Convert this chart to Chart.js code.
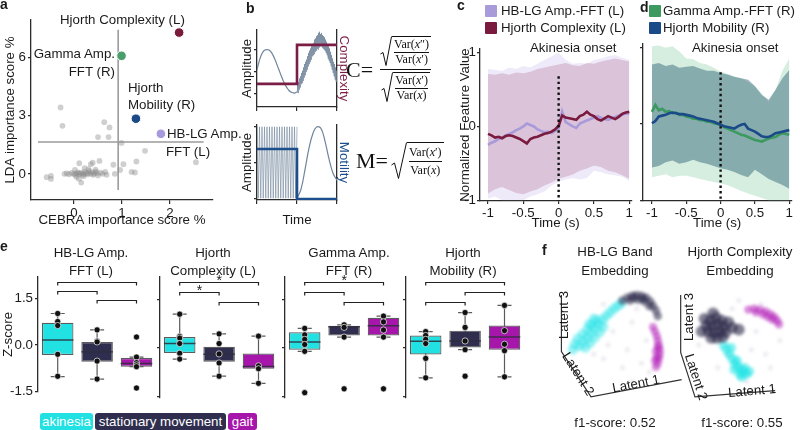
<!DOCTYPE html>
<html>
<head>
<meta charset="utf-8">
<title>Feature importance, Hjorth schematics, onset traces and embeddings</title>
<script src="https://cdn.jsdelivr.net/npm/chart.js@4.4.1/dist/chart.umd.min.js"></script>
<style>
  body { margin: 0; background: #fff; }
  #fig { position: relative; width: 800px; height: 430px; overflow: hidden;
         font-family: "Liberation Sans", Arial, sans-serif; color: #1a1a1a; }
  #fig canvas { position: absolute; }
  .t { position: absolute; z-index: 2; white-space: nowrap; font-size: 13.3px; line-height: 16px; }
  .ctr { text-align: center; width: 160px; }
  .rot { position: absolute; z-index: 2; white-space: nowrap; font-size: 13.3px; line-height: 16px; }
  .lbl { position: absolute; z-index: 2; font-weight: bold; font-size: 14px; line-height: 16px; }
  .sq { position: absolute; z-index: 2; width: 12px; height: 12px; border-radius: 1px; }
  .tag { position: absolute; z-index: 2; top: 413px; height: 17px; line-height: 17px; font-size: 13.3px;
         color: #fff; text-align: center; border-radius: 3px; }
  .fm { position: absolute; z-index: 2; display: flex; align-items: center;
        font-family: "Liberation Serif", "DejaVu Serif", serif; color: #111; }
  .eq { font-size: 22px; margin-right: 7px; }
  .fr { display: flex; flex-direction: column; align-items: center; }
  .fr > .rt:first-child { border-bottom: 1px solid #111; padding-bottom: 2px; margin-bottom: 2px; }
  .rt { display: flex; align-items: flex-start; }
  .rt svg { flex: none; }
  .sf { display: flex; flex-direction: column; align-items: center; border-top: 1px solid #111;
        font-size: 12px; line-height: 13px; padding: 1px 2px 0; }
  .sf > span:first-child { border-bottom: 1px solid #111; padding-bottom: 1px; }
  .sf.big { line-height: 16px; }
</style>
</head>
<body>
<div id="fig">
  <!-- panel labels -->
  <div class="lbl" style="left:0px;top:-4px">a</div>
  <div class="lbl" style="left:246px;top:0px">b</div>
  <div class="lbl" style="left:457px;top:-3px">c</div>
  <div class="lbl" style="left:640px;top:-1px">d</div>
  <div class="lbl" style="left:0px;top:238px">e</div>
  <div class="lbl" style="left:542px;top:242px">f</div>

  <!-- a: point annotations -->
  <div class="t" style="left:60px;top:12px">Hjorth Complexity (L)</div>
  <div class="t" style="right:685px;top:46px">Gamma Amp.</div>
  <div class="t" style="right:685px;top:64px">FFT (R)</div>
  <div class="t" style="left:128px;top:80px">Hjorth</div>
  <div class="t" style="left:128px;top:97px">Mobility (R)</div>
  <div class="t" style="left:167px;top:126px">HB-LG Amp.</div>
  <div class="t" style="left:166px;top:144px">FFT (L)</div>

  <!-- b: formulas -->
  <div class="fm" style="left:346px;top:36px">
    <span class="eq">C=</span>
    <span class="fr">
      <span class="rt">
        <svg width="12" height="31" viewBox="0 0 12 31"><path d="M0.5 18 L3 16.5 L6 29.5 L11.5 0.5" fill="none" stroke="#111" stroke-width="1"/></svg>
        <span class="sf"><span>Var(<i>x</i>″)</span><span>Var(<i>x</i>′)</span></span>
      </span>
      <span class="rt">
        <svg width="12" height="31" viewBox="0 0 12 31"><path d="M0.5 18 L3 16.5 L6 29.5 L11.5 0.5" fill="none" stroke="#111" stroke-width="1"/></svg>
        <span class="sf"><span>Var(<i>x</i>′)</span><span>Var(<i>x</i>)</span></span>
      </span>
    </span>
  </div>
  <div class="fm" style="left:356px;top:142px">
    <span class="eq" style="margin-right:3px">M=</span>
    <span class="rt">
      <svg width="16" height="38" viewBox="0 0 16 38"><path d="M0.5 23 L3.5 21 L7.5 36.5 L15.5 0.5" fill="none" stroke="#111" stroke-width="1"/></svg>
      <span class="sf big"><span>Var(<i>x</i>′)</span><span>Var(<i>x</i>)</span></span>
    </span>
  </div>

  <!-- c, d: legends and onset labels -->
  <div class="sq" style="left:485px;top:5px;background:#a99bd9"></div>
  <div class="t" style="left:501px;top:3px">HB-LG Amp.-FFT (L)</div>
  <div class="sq" style="left:485px;top:22px;background:#7a1a3e"></div>
  <div class="t" style="left:501px;top:20px">Hjorth Complexity (L)</div>
  <div class="sq" style="left:649px;top:5px;background:#3c9a60"></div>
  <div class="t" style="left:663px;top:3px">Gamma Amp.-FFT (R)</div>
  <div class="sq" style="left:649px;top:22px;background:#1a4a88"></div>
  <div class="t" style="left:663px;top:20px">Hjorth Mobility (R)</div>
  <div class="t" style="left:530px;top:40px">Akinesia onset</div>
  <div class="t" style="left:692px;top:40px">Akinesia onset</div>

  <!-- e: subplot titles and state legend -->
  <div class="t ctr" style="left:11px;top:244px;line-height:18px">HB-LG Amp.<br>FFT (L)</div>
  <div class="t ctr" style="left:133px;top:244px;line-height:18px">Hjorth<br>Complexity (L)</div>
  <div class="t ctr" style="left:269px;top:244px;line-height:18px">Gamma Amp.<br>FFT (R)</div>
  <div class="t ctr" style="left:383px;top:244px;line-height:18px">Hjorth<br>Mobility (R)</div>
  <div class="tag" style="left:40px;width:53px;background:#22e1e2">akinesia</div>
  <div class="tag" style="left:95px;width:131px;background:#302e4e">stationary movement</div>
  <div class="tag" style="left:228px;width:29px;background:#a616aa">gait</div>

  <!-- f: titles, latent axis names, scores -->
  <div class="t ctr" style="left:535px;top:242px;line-height:19px">HB-LG Band<br>Embedding</div>
  <div class="t ctr" style="left:660px;top:242px;line-height:19px">Hjorth Complexity<br>Embedding</div>
  <div class="rot" style="left:564px;top:315px;transform:translate(-50%,-50%) rotate(-90deg)">Latent 3</div>
  <div class="rot" style="left:578px;top:374px;transform:translate(-50%,-50%) rotate(58deg)">Latent 2</div>
  <div class="rot" style="left:636px;top:384px;transform:translate(-50%,-50%) rotate(-11deg)">Latent 1</div>
  <div class="rot" style="left:689px;top:317px;transform:translate(-50%,-50%) rotate(-90deg)">Latent 3</div>
  <div class="rot" style="left:696px;top:377px;transform:translate(-50%,-50%) rotate(72deg)">Latent 2</div>
  <div class="rot" style="left:752px;top:391px;transform:translate(-50%,-50%) rotate(-5deg)">Latent 1</div>
  <div class="t ctr" style="left:535px;top:415px">f1-score: 0.52</div>
  <div class="t ctr" style="left:662px;top:415px">f1-score: 0.55</div>
</div>

<script>
// ---------------- data ----------------

// a: CEBRA vs LDA importance (%)
const grayX = [-0.28, -0.24, 0.63, 0.74, 0.50, 0.72, 0.99, 1.48, 2.54, 1.30, 1.03, 0.82, 0.53, 0.11, 1.27,
  0.96, 0.39, 0.68, -0.57, -0.48, -0.48, 0.15, 0.35, 0.85, 1.20,
  -0.15, -0.10, -0.05, 0.00, 0.02, 0.05, 0.08, 0.10, 0.12, 0.15, 0.18, 0.20, 0.22, 0.25, 0.28, 0.30, 0.32,
  0.35, 0.38, 0.40, 0.42, 0.45, 0.48, 0.50, 0.55, 0.60, 0.65, -0.20, 0.05, 0.10, 0.20, 0.30, 0.22, 0.45, 0.02];
const grayY = [3.43, 2.48, 2.67, 2.40, 1.90, 1.90, 1.60, 1.19, 0.60, 0.64, 0.50, 0.47, 0.67, 0.55, 0.07,
  0.20, 0.58, -0.05, -0.17, -0.26, -0.10, -0.45, 0.50, 0.00, 0.10,
  0.02, -0.02, 0.05, 0.00, -0.05, 0.03, 0.08, -0.02, 0.02, 0.05, -0.04, 0.00, 0.10, 0.03, -0.03, 0.05, 0.15,
  0.00, 0.08, -0.05, 0.02, 0.12, 0.04, -0.08, 0.06, 0.00, 0.10, 0.00, -0.15, -0.25, -0.12, 0.25, 0.30, 0.22, 0.20];
const featNames = ['Hjorth Complexity (L)', 'Gamma Amp. FFT (R)', 'Hjorth Mobility (R)', 'HB-LG Amp. FFT (L)'];
const featX = [2.19, 0.99, 1.29, 1.81];
const featY = [7.30, 6.10, 2.85, 2.07];
const cutX = 0.92, cutY = 1.65;
const cutSpanX = [-0.75, 2.70];
const cutSpanY = [-0.83, 7.45];
const aTicksX = [0, 1, 2];
const aTicksY = [0, 3, 6];

// b: schematic signals (arbitrary units)
const tSine = [0, 0.05, 0.1, 0.15, 0.2, 0.25, 0.3, 0.35, 0.4, 0.45, 0.5, 0.55, 0.6, 0.65, 0.7, 0.75, 0.8, 0.85, 0.9, 0.95, 1];
const sineAmp = [0.1, 0.45, 0.72, 0.9, 0.98, 1.0, 0.98, 0.9, 0.75, 0.55, 0.32, 0.08, -0.15, -0.38, -0.57, -0.72, -0.84, -0.91, -0.94, -0.95, -0.9];
const tNoisy = [1, 1.0125, 1.025, 1.0375, 1.05, 1.0625, 1.075, 1.0875, 1.1, 1.1125, 1.125, 1.1375, 1.15, 1.1625,
  1.175, 1.1875, 1.2, 1.2125, 1.225, 1.2375, 1.25, 1.2625, 1.275, 1.2875, 1.3, 1.3125, 1.325, 1.3375, 1.35, 1.3625,
  1.375, 1.3875, 1.4, 1.4125, 1.425, 1.4375, 1.45, 1.4625, 1.475, 1.4875, 1.5, 1.5125, 1.525, 1.5375, 1.55, 1.5625,
  1.575, 1.5875, 1.6, 1.6125, 1.625, 1.6375, 1.65, 1.6625, 1.675, 1.6875, 1.7, 1.7125, 1.725, 1.7375, 1.75, 1.7625,
  1.775, 1.7875, 1.8, 1.8125, 1.825, 1.8375, 1.85, 1.8625, 1.875, 1.8875, 1.9, 1.9125, 1.925, 1.9375, 1.95, 1.9625,
  1.975, 1.9875, 2];
const noisyAmp = [-0.9, -0.55, -0.95, -0.45, -0.8, -0.3, -0.7, -0.2, -0.55, -0.05, -0.5, 0.05, -0.4, 0.2, -0.25,
  0.35, -0.15, 0.45, 0.0, 0.55, 0.1, 0.7, 0.25, 0.85, 0.35, 0.95, 0.45, 1.05, 0.55, 1.15, 0.7, 1.25, 0.75, 1.3, 0.8,
  1.45, 0.9, 1.5, 0.95, 1.6, 1.05, 1.65, 1.0, 1.75, 1.1, 1.8, 1.15, 1.7, 1.2, 1.75, 1.1, 1.65, 1.05, 1.6, 1.0, 1.55,
  0.95, 1.45, 0.85, 1.35, 0.75, 1.25, 0.6, 1.15, 0.5, 1.05, 0.4, 0.9, 0.25, 0.75, 0.1, 0.6, -0.05, 0.45, -0.2, 0.35,
  -0.35, 0.2, -0.45, 0.05, -0.45];
const stepT = [0, 1, 1, 2];
const complexityStep = [-0.54, -0.54, 1.21, 1.21];
const tFast = [0, 0.03125, 0.0625, 0.09375, 0.125, 0.15625, 0.1875, 0.21875, 0.25, 0.28125, 0.3125, 0.34375, 0.375,
  0.40625, 0.4375, 0.46875, 0.5, 0.53125, 0.5625, 0.59375, 0.625, 0.65625, 0.6875, 0.71875, 0.75, 0.78125, 0.8125,
  0.84375, 0.875, 0.90625, 0.9375, 0.96875, 1];
const fastAmp = [1, -1, 1, -1, 1, -1, 1, -1, 1, -1, 1, -1, 1, -1, 1, -1, 1, -1, 1, -1, 1, -1, 1, -1, 1, -1, 1, -1,
  1, -1, 1, -1, 1];
const tBump = [1, 1.1, 1.2, 1.3, 1.4, 1.5, 1.6, 1.7, 1.8, 1.9, 2];
const bumpAmp = [-1.0, -0.75, -0.2, 0.4, 0.82, 1.0, 0.95, 0.6, 0.1, -0.3, -0.5];
const motilityStep = [0.38, 0.38, -1.02, -1.02];

// c, d: feature traces around akinesia onset (s)
const tMean = [-1, -0.95, -0.9, -0.85, -0.8, -0.75, -0.7, -0.65, -0.6, -0.55, -0.5, -0.45, -0.4, -0.35, -0.3, -0.25,
  -0.2, -0.15, -0.1, -0.05, 0, 0.05, 0.1, 0.15, 0.2, 0.25, 0.3, 0.35, 0.4, 0.45, 0.5, 0.55, 0.6, 0.65, 0.7, 0.75,
  0.8, 0.85, 0.9, 0.95, 1];
const hblgMean = [-0.25, -0.22, -0.2, -0.17, -0.15, -0.12, -0.1, -0.08, -0.05, -0.03, 0.0, 0.04, 0.02, 0.0, -0.04,
  -0.06, -0.08, -0.07, -0.09, -0.06, -0.03, 0.2, 0.06, 0.03, 0.0, -0.02, 0.04, 0.06, 0.08, 0.1, 0.12, 0.14, 0.12,
  0.1, 0.09, 0.11, 0.13, 0.15, 0.16, 0.18, 0.17];
const complexityMean = [-0.1, -0.12, -0.15, -0.14, -0.16, -0.13, -0.12, -0.13, -0.15, -0.17, -0.2, -0.23, -0.17,
  -0.15, -0.14, -0.12, -0.1, -0.09, -0.07, -0.04, 0.01, 0.15, 0.12, 0.11, 0.1, 0.09, 0.14, 0.16, 0.2, 0.16, 0.14,
  0.1, 0.08, 0.11, 0.14, 0.12, 0.1, 0.13, 0.17, 0.19, 0.2];
const gammaMean = [0.16, 0.25, 0.18, 0.2, 0.16, 0.17, 0.14, 0.15, 0.12, 0.12, 0.1, 0.09, 0.07, 0.07, 0.05, 0.05,
  0.03, 0.03, 0.01, 0.0, -0.01, -0.04, -0.06, -0.08, -0.1, -0.12, -0.14, -0.15, -0.17, -0.19, -0.21, -0.22, -0.23,
  -0.21, -0.19, -0.18, -0.17, -0.14, -0.12, -0.13, -0.14];
const mobilityMean = [0.01, 0.04, 0.1, 0.11, 0.12, 0.14, 0.15, 0.14, 0.13, 0.13, 0.12, 0.11, 0.1, 0.08, 0.07, 0.06,
  0.05, 0.04, 0.03, 0.01, -0.01, -0.03, -0.04, -0.05, -0.06, -0.03, -0.01, 0.0, -0.06, -0.08, -0.1, -0.13, -0.16,
  -0.17, -0.17, -0.15, -0.12, -0.11, -0.1, -0.09, -0.08];
const tBand = [-1, -0.9, -0.8, -0.7, -0.6, -0.5, -0.4, -0.3, -0.2, -0.1, 0, 0.1, 0.2, 0.3, 0.4, 0.5, 0.6, 0.7, 0.8, 0.9, 1];
const hblgHi = [0.78, 0.77, 0.75, 0.8, 0.78, 0.82, 0.8, 0.85, 0.9, 0.95, 1.0, 0.9, 0.85, 0.86, 0.85, 0.9, 0.92, 0.95, 0.97, 0.93, 0.9];
const hblgLo = [-0.98, -0.95, -1.0, -1.0, -1.0, -1.0, -0.95, -0.92, -0.88, -0.8, -0.75, -0.72, -0.7, -0.72, -0.7, -0.6, -0.62, -0.65, -0.66, -0.68, -0.74];
const complexityHi = [0.71, 0.7, 0.72, 0.7, 0.73, 0.72, 0.74, 0.78, 0.8, 0.82, 0.84, 0.86, 0.83, 0.82, 0.86, 0.85, 0.88, 0.9, 0.92, 0.9, 0.88];
const complexityLo = [-0.91, -0.85, -0.82, -0.86, -0.9, -0.92, -0.88, -0.85, -0.8, -0.76, -0.71, -0.68, -0.65, -0.6, -0.57, -0.53, -0.55, -0.6, -0.62, -0.66, -0.71];
const gammaHi = [1.02, 1.03, 1.0, 1.02, 0.95, 0.86, 0.85, 0.8, 0.78, 0.74, 0.69, 0.66, 0.62, 0.6, 0.55, 0.49, 0.4, 0.29, 0.45, 0.7, 0.86];
const gammaLo = [-0.7, -0.68, -0.66, -0.7, -0.68, -0.68, -0.7, -0.72, -0.74, -0.76, -0.78, -0.8, -0.84, -0.88, -0.91, -0.94, -0.97, -1.0, -1.0, -1.0, -1.0];
const mobilityHi = [0.78, 0.8, 0.76, 0.78, 0.74, 0.75, 0.76, 0.73, 0.7, 0.7, 0.67, 0.65, 0.62, 0.6, 0.58, 0.5, 0.38, 0.32, 0.45, 0.6, 0.71];
const mobilityLo = [-0.57, -0.55, -0.5, -0.48, -0.52, -0.5, -0.47, -0.5, -0.52, -0.55, -0.58, -0.6, -0.63, -0.67, -0.7, -0.6, -0.66, -0.72, -0.76, -0.8, -0.85];
const timeTicks = [-1, -0.5, 0, 0.5, 1];
const valueTicks = [-1, 0, 1];

// e: z-scored feature per movement state
const states = ['akinesia', 'stationary movement', 'gait'];
const boxQ1 = [[-0.32, -0.54, -0.70], [-0.15, -0.42, -0.64], [-0.05, 0.39, 0.39], [-0.20, 0.02, -0.05]];
const boxMed = [[0.16, -0.22, -0.60], [0.14, -0.19, -0.57], [0.19, 0.66, 0.69], [0.21, 0.22, 0.34]];
const boxQ3 = [[0.72, 0.10, -0.42], [0.34, 0.04, -0.17], [0.49, 0.69, 0.94], [0.39, 0.54, 0.70]];
const whiskLo = [[-1.02, -1.10, -0.70], [-0.34, -0.87, -1.09], [-0.10, 0.34, 0.34], [-0.92, -0.05, -0.89]];
const whiskHi = [[1.02, 0.49, -0.39], [1.05, 0.44, 0.37], [0.61, 0.72, 0.99], [0.51, 1.10, 1.32]];
const subjPoints = [
  [[1.02, 0.76, 0.63, -0.30, -1.01], [0.49, 0.13, 0.10, -0.52, -1.10], [0.26, -0.39, -0.57, -0.64, -0.70, -1.39]],
  [[1.05, 0.36, 0.31, 0.14, -0.16, -0.34], [0.44, 0.14, -0.18, -0.46, -0.87], [0.37, -0.55, -0.64, -1.09]],
  [[0.61, 0.41, 0.27, 0.11, -0.10, -1.38], [0.72, 0.64, 0.34, -1.26], [0.99, 0.81, 0.56, 0.34, -1.26]],
  [[0.51, 0.39, 0.27, 0.14, -0.32, -0.92], [1.10, 0.64, 0.22, -0.05, -0.87], [1.32, 0.54, 0.12, -0.08, -0.89]],
];
// [state a, state b, bracket row, significant]
const comparisons = [
  [[0, 2, 0, false], [0, 1, 1, false], [1, 2, 2, false]],
  [[0, 2, 0, true], [0, 1, 1, true], [1, 2, 2, false]],
  [[0, 2, 0, true], [0, 1, 1, false], [1, 2, 2, false]],
  [[0, 2, 0, false], [1, 2, 1, false], [0, 1, 2, false]],
];
const zTicks = [-1.5, 0, 1.5];

// f: latent embeddings (projected)
const hbCyanX = [27, 31, 35, 39, 43, 47, 51, 55, 59, 63, 67, 71, 30, 35, 40, 45, 33, 38, 43, 48, 52, 37, 25, 42, 20, 22];
const hbCyanY = [64, 69, 73, 78, 83, 88, 93, 97, 101, 105, 108, 111, 77, 82, 87, 92, 62, 67, 73, 79, 85, 88, 72, 94, 60, 66];
const hbNavyX = [72, 77, 82, 87, 92, 97, 101, 104, 107, 109, 80, 88, 95, 100, 84, 93];
const hbNavyY = [114, 117, 119, 120, 119, 117, 113, 108, 103, 97, 114, 115, 113, 108, 117, 116];
const hbMagX = [104, 106, 108, 109, 110, 111, 111, 110, 109, 107, 107, 108, 106, 109];
const hbMagY = [85, 80, 75, 70, 65, 60, 55, 50, 45, 41, 58, 52, 48, 63];
const hbHazeX = [52, 72, 92, 62, 82, 97, 77, 57, 87, 52, 100, 82, 42];
const hbHazeY = [50, 40, 45, 80, 90, 70, 60, 65, 105, 110, 35, 25, 55];
const hjNavyX = [164, 170, 176, 160, 166, 172, 178, 162, 168, 174, 180, 165, 171, 177, 158, 167, 183, 187, 194, 155];
const hjNavyY = [92, 95, 92, 86, 86, 88, 85, 80, 79, 80, 79, 73, 73, 74, 94, 100, 90, 84, 82, 80];
const hjCyanX = [178, 181, 184, 187, 190, 193, 196, 199, 202, 195, 189, 192, 186, 200, 205, 197];
const hjCyanY = [65, 60, 55, 50, 45, 41, 38, 35, 33, 33, 38, 48, 62, 40, 36, 30];
const hjMagX = [204, 210, 216, 222, 227, 231, 234, 236, 219, 229, 212, 224];
const hjMagY = [104, 105, 104, 102, 99, 96, 92, 88, 99, 93, 101, 96];
const hjHazeX = [194, 217, 237, 227, 202, 172, 152, 212, 207, 187, 222, 182];
const hjHazeY = [114, 110, 70, 40, 25, 40, 65, 80, 60, 105, 55, 55];

// ---------------- drawing ----------------
Chart.defaults.font.family = '"Liberation Sans", Arial, sans-serif';
Chart.defaults.font.size = 13.3;
Chart.defaults.color = '#1a1a1a';
Chart.defaults.animation = false;
Chart.defaults.responsive = false;
Chart.defaults.plugins.legend.display = false;
Chart.defaults.plugins.tooltip.enabled = false;

const AX = '#2b2b2b';
const fig = document.getElementById('fig');

function place(l, t, w, h) {
  const c = document.createElement('canvas');
  c.width = w; c.height = h;
  c.style.left = l + 'px';
  c.style.top = t + 'px';
  fig.appendChild(c);
  return c.getContext('2d');
}
const fixW = w => s => { s.width = w; };
const fixH = h => s => { s.height = h; };
const setTicks = vals => s => { s.ticks = vals.map(v => ({ value: v })); };
const pts = (xs, ys) => xs.map((x, i) => ({ x, y: ys[i] }));
const tickGrid = len => ({ drawOnChartArea: false, tickLength: len, color: AX, lineWidth: 1.2 });
const axBorder = { color: AX, width: 1.3 };

// ---- a ----
new Chart(place(0, 0, 232, 232), {
  type: 'scatter',
  data: {
    datasets: [
      { label: 'features', data: pts(featX, featY),
        backgroundColor: ['#7a1a3c', '#4a9e6c', '#1b4a86', '#a898dc'],
        borderColor: '#fff', borderWidth: 1, pointRadius: 4.8 },
      { label: 'other features', data: pts(grayX, grayY),
        backgroundColor: 'rgba(140,140,140,0.42)', borderWidth: 0, pointRadius: 2.9 },
      { type: 'line', data: cutSpanX.map(x => ({ x, y: cutY })),
        borderColor: '#9b9b9b', borderWidth: 1.6, pointRadius: 0 },
      { type: 'line', data: cutSpanY.map(y => ({ x: cutX, y })),
        borderColor: '#9b9b9b', borderWidth: 1.6, pointRadius: 0 },
    ]
  },
  options: {
    layout: { padding: { top: 20, right: 19, left: 0, bottom: 0 } },
    scales: {
      x: { type: 'linear', min: -0.896, max: 2.896, afterBuildTicks: setTicks(aTicksX), afterFit: fixH(32),
           ticks: { padding: 1 }, grid: tickGrid(4), border: axBorder,
           title: { display: true, text: 'CEBRA importance score %', padding: { top: 0, bottom: 4 } } },
      y: { min: -1.35, max: 7.95, afterBuildTicks: setTicks(aTicksY), afterFit: fixW(31),
           ticks: { padding: 2 }, grid: tickGrid(3), border: axBorder,
           title: { display: true, text: 'LDA importance score %', padding: { top: 2, bottom: 0 } } }
    }
  }
});

// ---- b ----
const sigColor = '#70849a';
function schematic(ctx, datasets, rightTitle, rightColor, yMin, yMax, padTop, xTitle) {
  new Chart(ctx, {
    type: 'line',
    data: { datasets },
    options: {
      layout: { padding: { top: padTop } },
      elements: { point: { radius: 0 } },
      scales: {
        x: { type: 'linear', min: 0, max: 2, afterBuildTicks: setTicks([0, 1, 2]), afterFit: fixH(xTitle ? 32 : 5),
             ticks: { display: false }, grid: tickGrid(4), border: axBorder,
             title: { display: !!xTitle, text: xTitle, padding: { top: 0, bottom: 4 } } },
        y: { position: 'left', min: yMin, max: yMax, afterBuildTicks: setTicks([-1, 0, 1]), afterFit: fixW(22),
             ticks: { display: false }, grid: tickGrid(3), border: axBorder,
             title: { display: true, text: 'Amplitude', padding: { top: 4, bottom: 0 } } },
        y2: { position: 'right', min: yMin, max: yMax, afterFit: fixW(19),
              ticks: { display: false }, grid: { display: false }, border: axBorder,
              title: { display: true, text: rightTitle, color: rightColor, padding: { top: 4, bottom: 0 } } }
      }
    }
  });
}
schematic(place(235, 24, 121, 88), [
  { data: pts(stepT, complexityStep), borderColor: '#7b1e46', borderWidth: 2.6 },
  { data: pts(tNoisy, noisyAmp), borderColor: sigColor, borderWidth: 0.7 },
  { data: pts(tSine, sineAmp), borderColor: sigColor, borderWidth: 1.2, tension: 0.4 },
], 'Complexity', '#7b1e46', -1.58, 1.88, 6, '');
schematic(place(235, 119, 121, 113), [
  { data: pts(stepT, motilityStep), borderColor: '#1d4f8c', borderWidth: 2.6 },
  { data: pts(tFast, fastAmp), borderColor: sigColor, borderWidth: 0.6 },
  { data: pts(tBump, bumpAmp), borderColor: sigColor, borderWidth: 1.2, tension: 0.4 },
], 'Motility', '#1d4f8c', -1.05, 1.05, 6, 'Time');

// ---- c, d ----
const band = (hi, lo, color, order) => [
  { data: pts(tBand, hi), fill: '+1', backgroundColor: color, borderWidth: 0, order },
  { data: pts(tBand, lo), fill: false, borderWidth: 0, order },
];
const meanLine = (ys, color, order) => ({ data: pts(tMean, ys), borderColor: color, borderWidth: 2.6, order });
const onsetLine = { data: [{ x: 0, y: 0.68 }, { x: 0, y: -1.01 }], borderColor: '#111', borderWidth: 2.4,
                    borderDash: [2.4, 3], order: -1 };

function traceChart(ctx, xMin, yw, withLabels, datasets) {
  new Chart(ctx, {
    type: 'line',
    data: { datasets },
    options: {
      layout: { padding: { top: 4, right: 2 } },
      elements: { point: { radius: 0 } },
      scales: {
        x: { type: 'linear', min: xMin, max: 1.029, afterBuildTicks: setTicks(timeTicks), afterFit: fixH(34),
             ticks: { padding: 1, callback: v => String(v) }, grid: tickGrid(3), border: axBorder,
             title: { display: true, text: 'Time (s)', padding: { top: 0, bottom: 4 } } },
        y: { min: -1.01, max: 1.05, afterBuildTicks: setTicks(valueTicks), afterFit: fixW(yw),
             ticks: { display: withLabels, padding: 1, callback: v => String(v) }, grid: tickGrid(3), border: axBorder,
             title: { display: withLabels, text: 'Normalized Feature Value', padding: { top: 4, bottom: 0 } } }
      }
    }
  });
}
traceChart(place(453, 40, 181, 195), -1.113, 27, true, [
  ...band(hblgHi, hblgLo, 'rgba(190,175,232,0.26)', 6),
  ...band(complexityHi, complexityLo, 'rgba(150,55,105,0.22)', 5),
  meanLine(hblgMean, '#a99bd9', 2),
  meanLine(complexityMean, '#7a1a3e', 1),
  onsetLine,
]);
traceChart(place(636, 40, 158, 195), -1.13, 7, false, [
  ...band(gammaHi, gammaLo, 'rgba(165,218,185,0.45)', 6),
  ...band(mobilityHi, mobilityLo, 'rgba(50,100,122,0.48)', 5),
  meanLine(gammaMean, '#3c9a60', 2),
  meanLine(mobilityMean, '#1a4a88', 1),
  onsetLine,
]);

// ---- e ----
const stateColors = ['#22e1e2', '#302e4e', '#a616aa'];
const bracketRows = [2.05, 1.74, 1.44];
function boxExtras(k) {
  return {
    id: 'boxExtras' + k,
    beforeDatasetsDraw(chart) {
      const { ctx, scales: { x, y } } = chart;
      ctx.save();
      ctx.strokeStyle = '#5b5b5b';
      ctx.lineWidth = 1.2;
      states.forEach((s, i) => {
        const px = x.getPixelForValue(i);
        const lo = y.getPixelForValue(whiskLo[k][i]), hi = y.getPixelForValue(whiskHi[k][i]);
        ctx.beginPath();
        ctx.moveTo(px, lo); ctx.lineTo(px, hi);
        ctx.moveTo(px - 7, lo); ctx.lineTo(px + 7, lo);
        ctx.moveTo(px - 7, hi); ctx.lineTo(px + 7, hi);
        ctx.stroke();
      });
      ctx.restore();
    },
    afterDatasetDraw(chart, args) {
      if (args.index !== 1) return;
      const { ctx, scales: { x, y } } = chart;
      const half = args.meta.data[0].width / 2;
      ctx.save();
      ctx.strokeStyle = 'rgba(45,45,60,0.85)';
      ctx.lineWidth = 1.5;
      states.forEach((s, i) => {
        const px = x.getPixelForValue(i), py = y.getPixelForValue(boxMed[k][i]);
        ctx.beginPath(); ctx.moveTo(px - half, py); ctx.lineTo(px + half, py); ctx.stroke();
      });
      ctx.restore();
    },
    afterDraw(chart) {
      const { ctx, scales: { x, y } } = chart;
      ctx.save();
      ctx.strokeStyle = '#222';
      ctx.fillStyle = '#222';
      ctx.lineWidth = 1.2;
      ctx.font = '14px "Liberation Sans", Arial, sans-serif';
      ctx.textAlign = 'center';
      comparisons[k].forEach(([a, b, row, sig]) => {
        const x0 = x.getPixelForValue(a), x1 = x.getPixelForValue(b);
        const py = Math.round(y.getPixelForValue(bracketRows[row])) + 0.5;
        ctx.beginPath();
        ctx.moveTo(x0, py + 3); ctx.lineTo(x0, py); ctx.lineTo(x1, py); ctx.lineTo(x1, py + 3);
        ctx.stroke();
        if (sig) ctx.fillText('*', (x0 + x1) / 2, py + 2.5);
      });
      ctx.restore();
    }
  };
}
const eLeft = [38, 160, 285, 406];
eLeft.forEach((left, k) => {
  const yw = k === 0 ? 38 : 6;
  const subj = [];
  states.forEach((s, i) => subjPoints[k][i].forEach(v => subj.push({ x: s, y: v })));
  new Chart(place(left - yw, 240, yw + 123, 162), {
    type: 'bar',
    data: {
      labels: states,
      datasets: [
        { type: 'scatter', data: subj, backgroundColor: '#111', borderColor: 'rgba(255,255,255,0.85)',
          borderWidth: 0.8, pointRadius: 3.1, order: 0 },
        { data: states.map((s, i) => [boxQ1[k][i], boxQ3[k][i]]), backgroundColor: stateColors,
          borderColor: '#5b5b5b', borderWidth: 1.2, borderSkipped: false,
          barPercentage: 0.8, categoryPercentage: 1, order: 1 },
      ]
    },
    options: {
      layout: { padding: { top: 37, bottom: 2, right: 1, left: 0 } },
      scales: {
        x: { display: false },
        y: { min: -1.52, max: 2.2, afterBuildTicks: setTicks(zTicks), afterFit: fixW(yw),
             ticks: { display: k === 0, padding: 2, callback: v => v.toFixed(1) },
             grid: tickGrid(3), border: axBorder,
             title: { display: k === 0, text: 'Z-score', padding: { top: 0, bottom: 0 } } }
      }
    },
    plugins: [boxExtras(k)]
  });
});

// ---- f ----
const cloud = (xs, ys, color, r) => ({ data: pts(xs, ys), backgroundColor: color, borderWidth: 0, pointRadius: r });
const frame = xy => ({ type: 'line', data: xy, borderColor: '#333', borderWidth: 1.2, pointRadius: 0 });
// point clouds are drawn slightly soft, the latent-axis frames stay sharp
const soften = {
  id: 'soften',
  beforeDatasetDraw(chart, args) { if (args.index >= 2) { chart.ctx.save(); chart.ctx.filter = 'blur(1.4px)'; } },
  afterDatasetDraw(chart, args) { if (args.index >= 2) chart.ctx.restore(); }
};
new Chart(place(548, 282, 252, 128), {
  type: 'scatter',
  data: {
    datasets: [
      frame([{ x: 8, y: 120 }, { x: 8, y: 58 }, { x: 39, y: 8 }, { x: 134, y: 27 }]),
      frame([{ x: 133, y: 120 }, { x: 133, y: 57 }, { x: 148, y: 8 }, { x: 232, y: 15 }]),
      cloud(hbNavyX, hbNavyY, 'rgba(44,42,74,0.55)', 4.2),
      cloud(hbMagX, hbMagY, 'rgba(178,28,184,0.5)', 4),
      cloud(hbCyanX, hbCyanY, 'rgba(33,227,230,0.45)', 5),
      cloud(hjNavyX, hjNavyY, 'rgba(44,42,74,0.6)', 5.8),
      cloud(hjCyanX, hjCyanY, 'rgba(33,227,230,0.55)', 4.8),
      cloud(hjMagX, hjMagY, 'rgba(178,28,184,0.5)', 4.2),
      cloud(hbHazeX, hbHazeY, 'rgba(150,140,170,0.18)', 2.5),
      cloud(hjHazeX, hjHazeY, 'rgba(150,140,170,0.18)', 2.5),
    ]
  },
  options: {
    layout: { padding: 0 },
    scales: {
      x: { display: false, type: 'linear', min: 0, max: 252 },
      y: { display: false, min: 0, max: 128 }
    }
  },
  plugins: [soften]
});
</script>
</body>
</html>
